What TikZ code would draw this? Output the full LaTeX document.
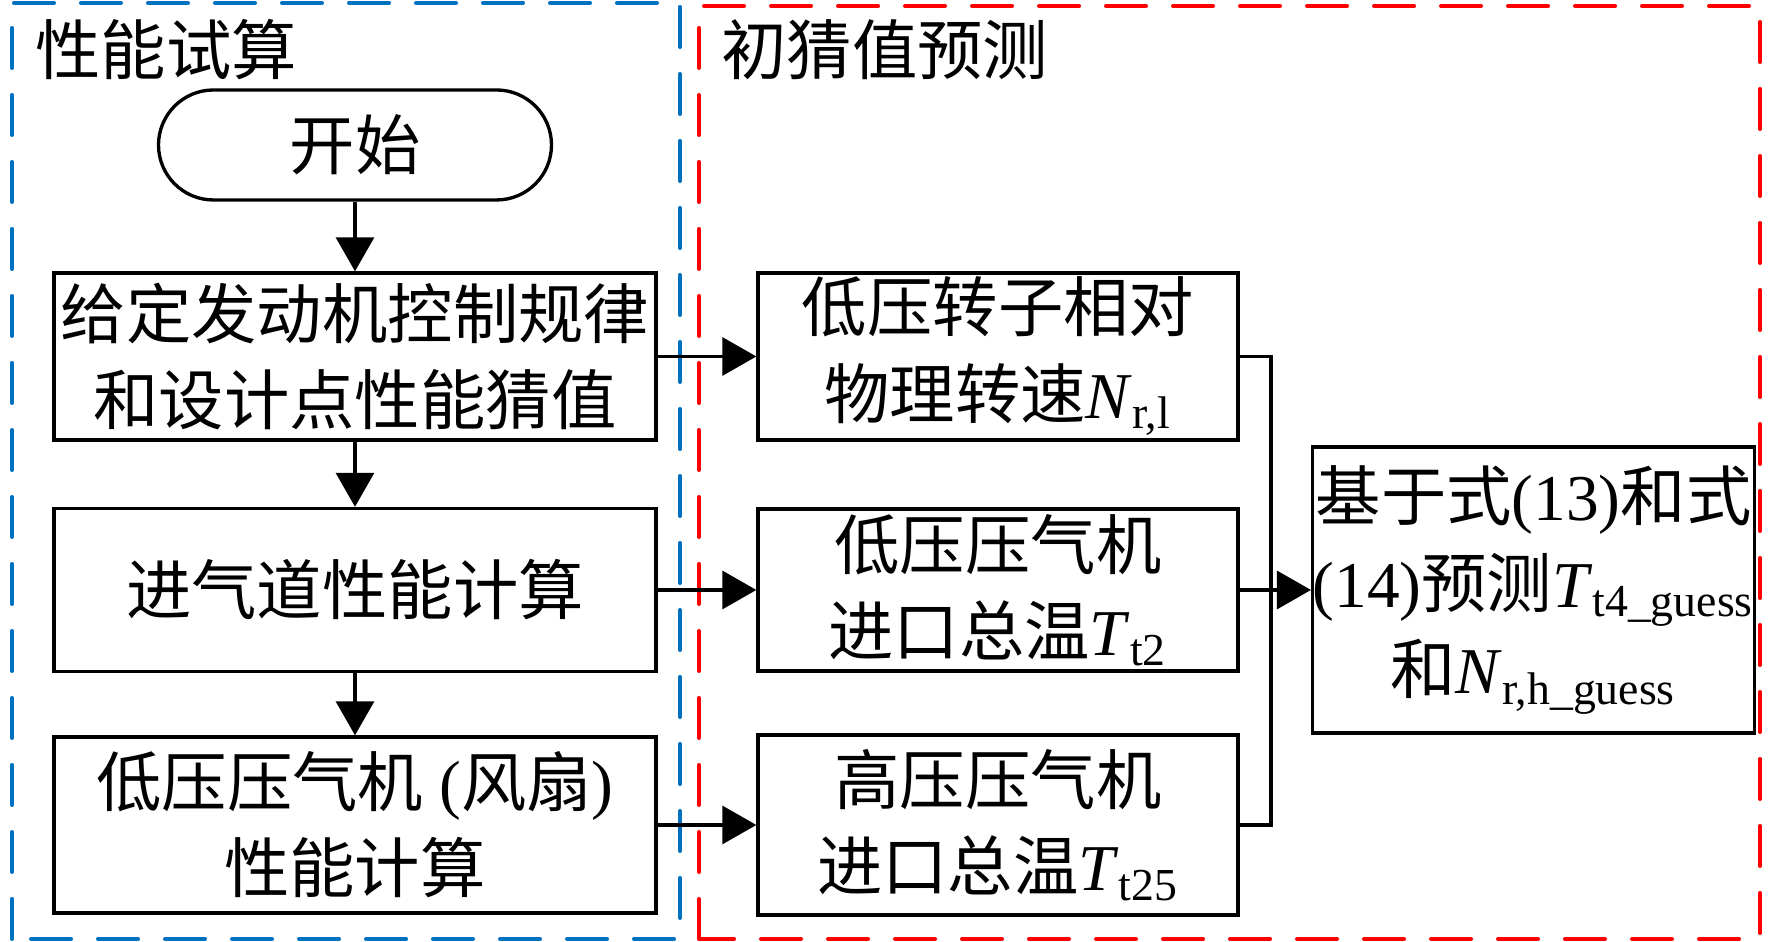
\documentclass[tikz,border=0pt]{standalone}
\usepackage{fontspec}
\setmainfont{Liberation Serif}
\newfontfamily\zhfont{Noto Sans CJK SC}
\newcommand{\zh}[1]{{\zhfont #1}}
\usepackage{tikz}
\usetikzlibrary{arrows.meta}
\definecolor{frameblue}{RGB}{0,112,192}
\definecolor{framered}{RGB}{255,0,0}

\begin{document}
\begin{tikzpicture}[
	font=\fontsize{18.6pt}{24.5pt}\selectfont,
	>={Triangle[length=3.4mm,width=3.8mm]},
	line width=0.95pt,
	box/.style={draw, align=center, inner sep=0pt},
	leftbox/.style={box, minimum width=6.02cm},
	rightbox/.style={box, minimum width=4.80cm},
	frame/.style={line width=1.15pt, dash pattern=on 4.0mm off 2.7mm, line cap=round},
	]
	\useasboundingbox (0,0) rectangle (17.72,9.42);
	
	% frames
	\draw[frame, frameblue] (0.12,0.03) rectangle (6.80,9.39);
	\draw[frame, framered] (6.99,0.03) rectangle (17.60,9.36);
	\node[anchor=west] (titleA) at (0.22,8.92) {\zh{性能试算}};
	\node[anchor=west] (titleB) at (7.08,8.92) {\zh{初猜值预测}};
	
	% left column
	\node[box, rounded corners=5.5mm, minimum width=3.93cm, minimum height=1.1cm] (start) at (3.55,7.97) {\zh{开始}};
	\node[leftbox, minimum height=1.67cm] (given) at (3.55,5.855) {\zh{给定发动机控制规律}\\\zh{和设计点性能猜值}};
	\node[leftbox, minimum height=1.63cm] (inlet) at (3.55,3.52) {\zh{进气道性能计算}};
	\node[leftbox, minimum height=1.76cm] (fan) at (3.55,1.17) {\zh{低压压气机} (\zh{风扇})\\\zh{性能计算}};
	
	% right column
	\node[rightbox, minimum height=1.67cm] (nrl) at (9.98,5.855) {\zh{低压转子相对}\\\zh{物理转速}\textit{N}\textsubscript{r,l}};
	\node[rightbox, minimum height=1.62cm] (tt2) at (9.98,3.52) {\zh{低压压气机}\\\zh{进口总温}\textit{T}\textsubscript{t2}};
	\node[rightbox, minimum height=1.80cm] (tt25) at (9.98,1.17) {\zh{高压压气机}\\\zh{进口总温}\textit{T}\textsubscript{t25}};
	
	\node[box, minimum width=4.37cm, minimum height=2.86cm] (guess) at (15.335,3.52) {\zh{基于式}(13)\zh{和式}\\(14)\zh{预测}\textit{T}\textsubscript{t4\_guess}\\\zh{和}\textit{N}\textsubscript{r,h\_guess}};
	
	% connectors
	\draw[->] (start) -- (given);
	\draw[->] (given) -- (inlet);
	\draw[->] (inlet) -- (fan);
	\draw[->] (given) -- (nrl);
	\draw[->] (inlet) -- (tt2);
	\draw[->] (fan) -- (tt25);
	
	\coordinate (bus) at (12.71,3.52);
	\draw (nrl.east) -| (bus) |- (tt25.east);
	\draw[->] (tt2) -- (guess);
	
\end{tikzpicture}
\end{document}
